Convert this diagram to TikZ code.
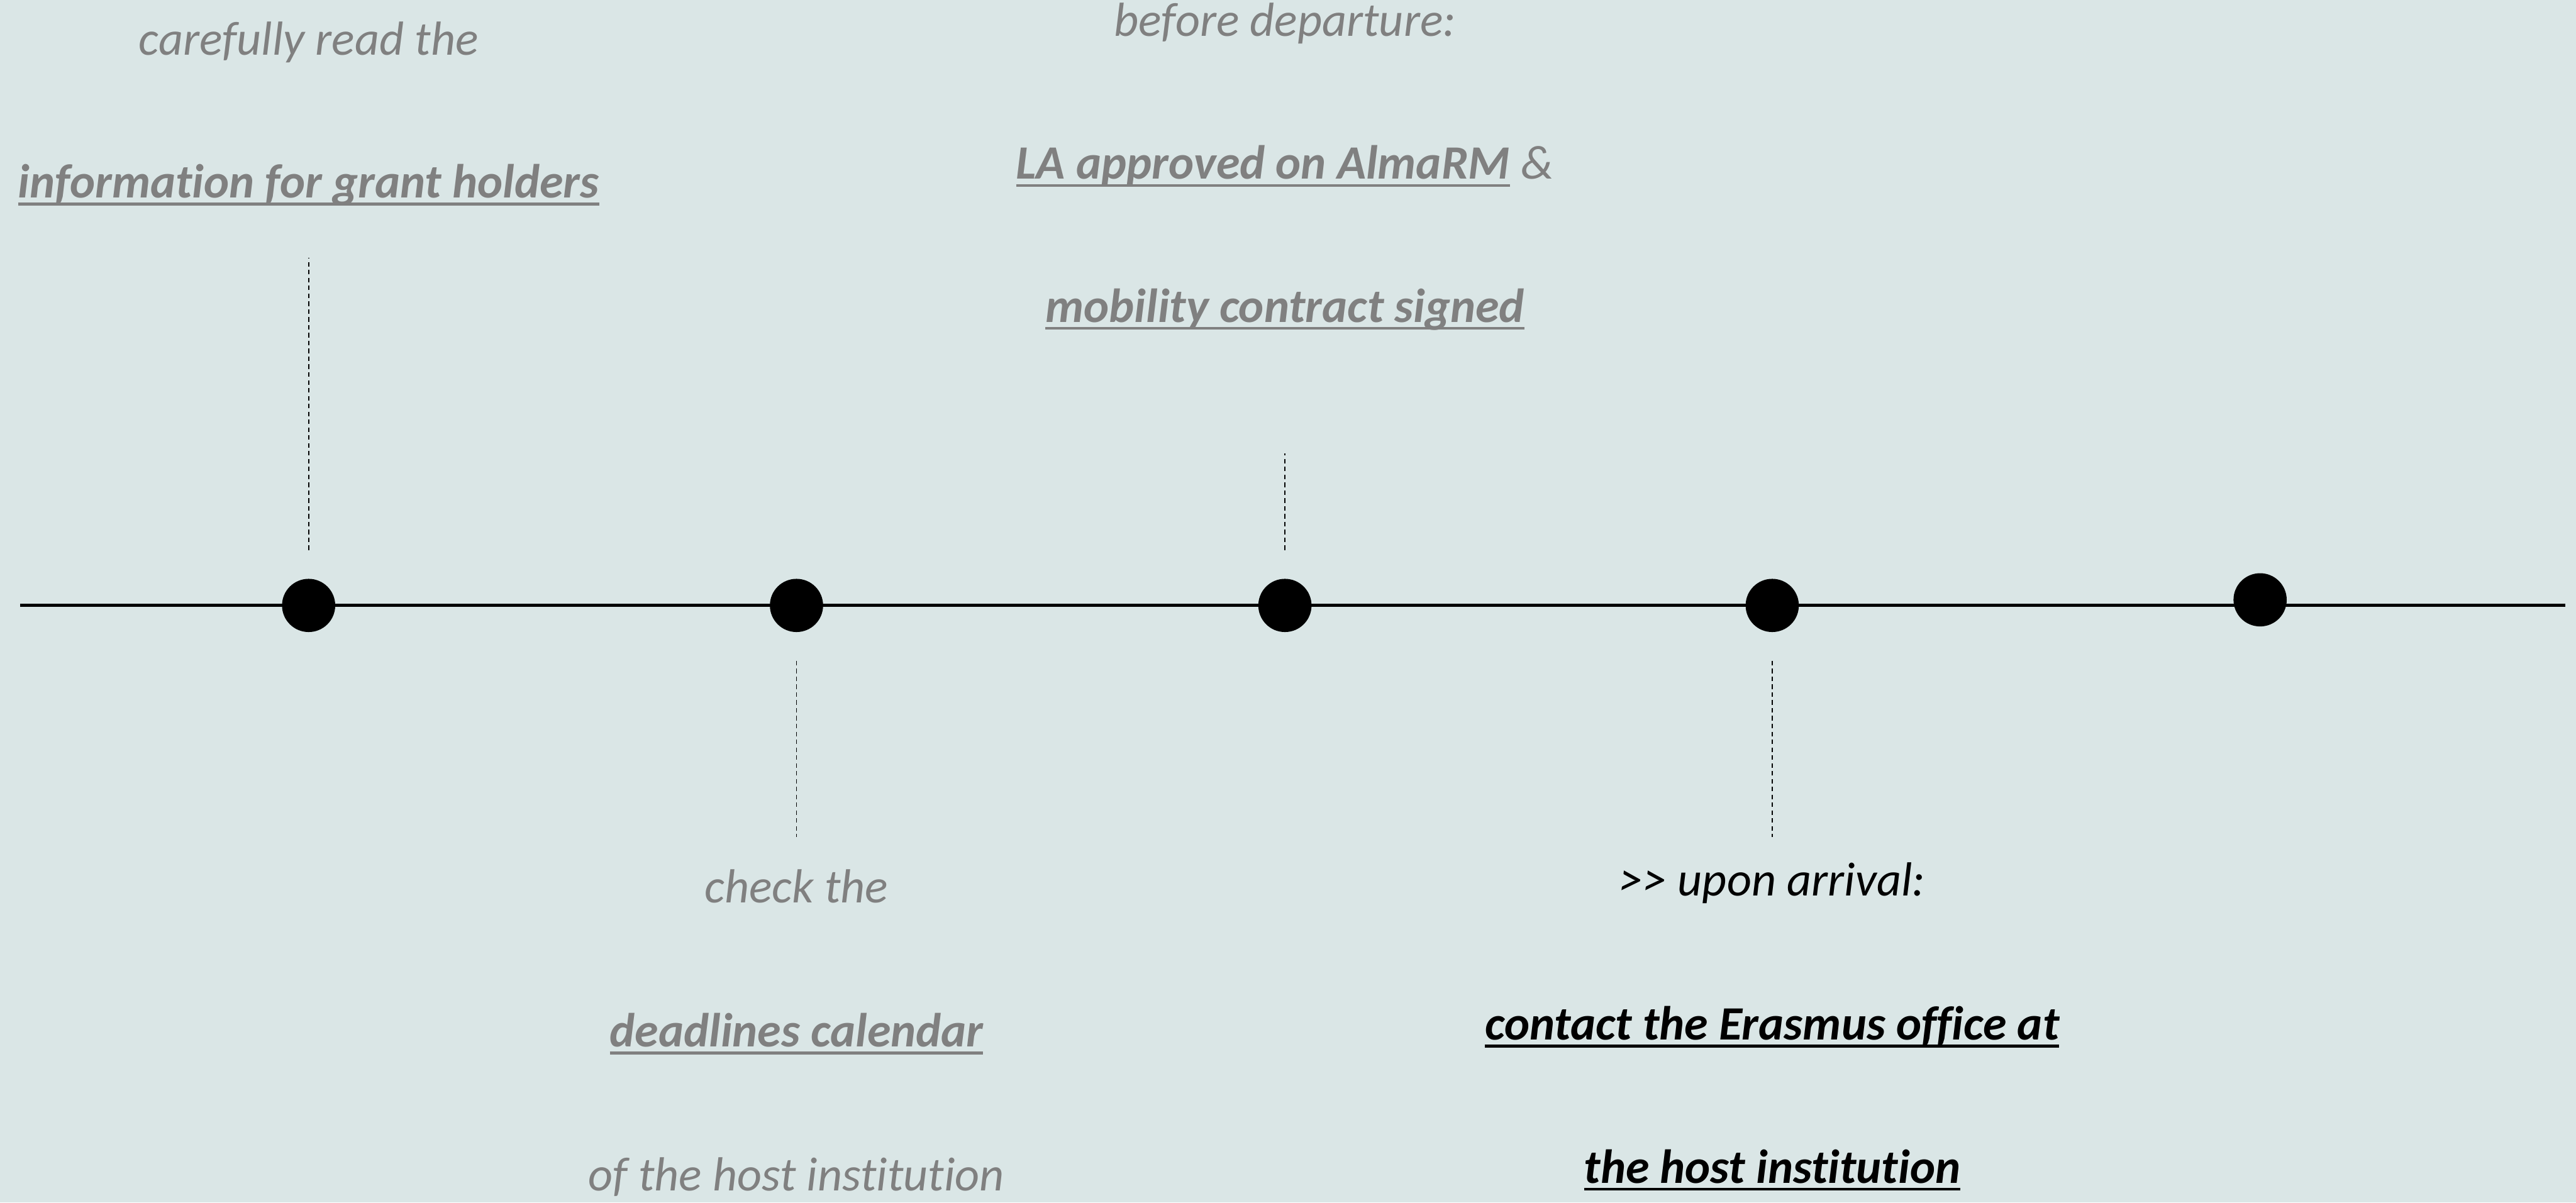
\documentclass[tikz,border=0pt]{standalone}
\usepackage{fontspec}
\setmainfont{Carlito}[Ligatures=NoCommon]
\usepackage{tikz}

\definecolor{bgcol}{HTML}{DAE6E6}
\definecolor{txtgray}{HTML}{808080}

% bold underlined link text
\newcommand{\ulink}[1]{\setbox0\hbox{\bfseries #1}\rlap{\rule[-0.16em]{\wd0}{0.06em}}\box0\relax}

\begin{document}
\begin{tikzpicture}[
    lbl/.style={anchor=base, inner sep=0pt, text=txtgray, font=\fontsize{12.15}{14}\selectfont\itshape},
    milestone/.style={circle, fill=black, inner sep=0pt, minimum size=0.475cm},
    leader/.style={line width=0.3pt, dash pattern=on 1.15pt off 0.85pt}
]
    \fill[bgcol] (0,0) rectangle (22.995,10.735);
    \useasboundingbox (0,0) rectangle (22.995,10.735);

    % Timeline
    \draw[line width=0.85pt] (0.18,5.33) -- (22.9,5.33);

    % Milestones
    \node[milestone] (d1) at (2.755,5.33) {};
    \node[milestone] (d2) at (7.11,5.33) {};
    \node[milestone] (d3) at (11.47,5.33) {};
    \node[milestone] (d4) at (15.82,5.33) {};
    \node[milestone] (d5) at (20.175,5.38) {};

    % Above the line
    \node[lbl] (read) at (2.755,10.245) {carefully read the};
    \node[lbl] (info) at (2.755,8.97) {\ulink{information for grant holders}};

    \node[lbl] (before) at (11.47,10.41) {before departure:};
    \node[lbl] (la) at (11.47,9.135) {\ulink{LA approved on AlmaRM} \&};
    \node[lbl] (contract) at (11.47,7.86) {\ulink{mobility contract signed}};

    % Below the line
    \node[lbl] (check) at (7.11,2.675) {check the};
    \node[lbl] (calendar) at (7.11,1.39) {\ulink{deadlines calendar}};
    \node[lbl] (host) at (7.11,0.105) {of the host institution};

    \node[lbl, text=black] (arrival) at (15.82,2.74) {>{}> upon arrival:};
    \node[lbl, text=black] (office) at (15.82,1.45) {\ulink{contact the Erasmus office at}};
    \node[lbl, text=black] (hostinst) at (15.82,0.175) {\ulink{the host institution}};

    % Leaders
    \draw[leader] ([yshift=0.25cm]d1.north) -- ([yshift=-0.535cm]info.base);
    \draw[leader] ([yshift=0.25cm]d3.north) -- ([yshift=-1.17cm]contract.base);
    \draw[leader] ([yshift=-0.25cm]d2.south) -- ([yshift=0.59cm]check.base);
    \draw[leader] ([yshift=-0.25cm]d4.south) -- ([yshift=0.525cm]arrival.base);
\end{tikzpicture}
\end{document}
